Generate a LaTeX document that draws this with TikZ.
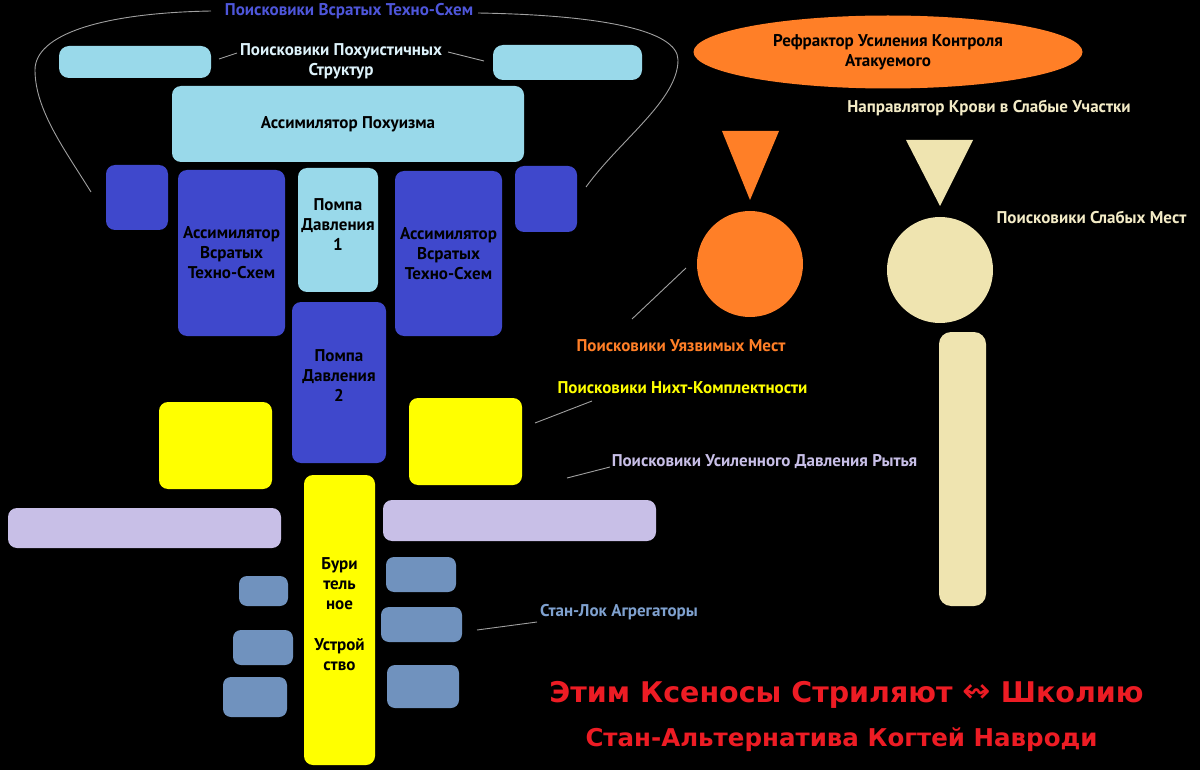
\documentclass[tikz,border=0pt]{standalone}
\usepackage{fontspec}
\setmainfont{PT Sans}
\newfontfamily\symf{DejaVu Sans}
\usetikzlibrary{shapes.geometric}
\definecolor{indig}{HTML}{3F48CC}
\definecolor{indigtxt}{HTML}{4E56DA}
\definecolor{ltblue}{HTML}{99D9EA}
\definecolor{ltbluetxt}{HTML}{DDF2FA}
\definecolor{yel}{HTML}{FFFF00}
\definecolor{lav}{HTML}{C8BFE7}
\definecolor{steel}{HTML}{7092BE}
\definecolor{steeltxt}{HTML}{7FA1CF}
\definecolor{orng}{HTML}{FF7F27}
\definecolor{cream}{HTML}{EFE4B0}
\definecolor{creamtxt}{HTML}{F3EBC6}
\definecolor{redc}{HTML}{ED1C24}
\definecolor{connc}{HTML}{A0A0A0}
\tikzset{
  box/.style={rectangle, rounded corners=9pt, inner sep=0pt, draw=none, align=center,
    text=black, font=\fontsize{17}{20}\selectfont\bfseries},
  lbl/.style={inner sep=0pt, align=center, font=\fontsize{17}{20}\selectfont\bfseries},
  conn/.style={draw=connc, line width=0.9pt},
  redtxt/.style={inner sep=0pt, text=redc},
}
\begin{document}
\begin{tikzpicture}[x=1pt,y=-1pt]
\fill[black] (0,0) rectangle (1200,770);
\useasboundingbox (0,0) rectangle (1200,770);

% top bracket label
\node[lbl, text=indigtxt] (topLbl) at (349,11) {Поисковики Всратых Техно-Схем};
\coordinate (arcLs) at (211,11);
\coordinate (arcRs) at (478,13);
\coordinate (arcLe) at (91,192);
\coordinate (arcRe) at (586,187);
\draw[conn] (arcLs) .. controls (100,13) and (35,35) .. (35,70)
  .. controls (35,110) and (65,150) .. (arcLe);
\draw[conn] (arcRs) .. controls (600,15) and (678,30) .. (678,60)
  .. controls (678,100) and (620,140) .. (arcRe);

% light blue
\node[box, fill=ltblue, rounded corners=10pt, minimum width=152, minimum height=32] (lbL) at (135,62) {};
\node[box, fill=ltblue, rounded corners=10pt, minimum width=149, minimum height=35] (lbR) at (567.5,62.5) {};
\node[lbl, text=ltbluetxt] (pokhLbl) at (341,61) {Поисковики Похуистичных\\Структур};
\coordinate (pkL1) at (219,59); \coordinate (pkL2) at (237,53);
\coordinate (pkR1) at (448,52); \coordinate (pkR2) at (484,61);
\draw[conn] (pkL1) -- (pkL2);
\draw[conn] (pkR1) -- (pkR2);

\node[box, fill=ltblue, minimum width=352, minimum height=76] (assimP) at (348,124) {Ассимилятор Похуизма};

% blue row
\node[box, fill=indig, minimum width=62, minimum height=65] (sbL) at (137,197.5) {};
\node[box, fill=indig, minimum width=107, minimum height=166] (assimL) at (231.5,253) {Ассимилятор\\Всратых\\Техно-Схем};
\node[box, fill=ltblue, minimum width=80, minimum height=124,
  label={[box, yshift=5pt]center:Помпа\\Давления\\1}] (pump1) at (338,230) {};
\node[box, fill=indig, minimum width=107, minimum height=165] (assimR) at (448.5,253.5) {Ассимилятор\\Всратых\\Техно-Схем};
\node[box, fill=indig, minimum width=62, minimum height=66] (sbR) at (546,199) {};
\node[box, fill=indig, minimum width=94, minimum height=161,
  label={[box, yshift=7pt]center:Помпа\\Давления\\2}] (pump2) at (339,382.5) {};

% yellow
\node[box, fill=yel, minimum width=113, minimum height=87] (yL) at (215.5,445.5) {};
\node[box, fill=yel, minimum width=113, minimum height=87] (yR) at (465.5,441.5) {};

% lavender
\node[box, fill=lav, minimum width=273, minimum height=40] (lavL) at (144.5,528) {};
\node[box, fill=lav, minimum width=273, minimum height=41] (lavR) at (519.5,520.5) {};

% drill
\node[box, fill=yel, minimum width=71, minimum height=290,
  label={[box, yshift=6pt]center:Бури\\тель\\ное\\[21pt]Устрой\\ство}] (drill) at (339.5,620) {};

% steel blue
\node[box, fill=steel, rounded corners=8pt, minimum width=49, minimum height=30] (sL1) at (263.5,591) {};
\node[box, fill=steel, rounded corners=8pt, minimum width=60, minimum height=35] (sL2) at (263,647.5) {};
\node[box, fill=steel, rounded corners=8pt, minimum width=64, minimum height=40] (sL3) at (255,697) {};
\node[box, fill=steel, rounded corners=8pt, minimum width=70, minimum height=35] (sR1) at (421,574.5) {};
\node[box, fill=steel, rounded corners=8pt, minimum width=81, minimum height=35] (sR2) at (421.5,624.5) {};
\node[box, fill=steel, rounded corners=8pt, minimum width=72, minimum height=43] (sR3) at (423,686.5) {};

% right side
\node[ellipse, fill=orng, inner sep=0pt, minimum width=389, minimum height=73, align=center,
  font=\fontsize{17}{20}\selectfont\bfseries] (refr) at (888,52) {Рефрактор Усиления Контроля\\Атакуемого};
\node[lbl, text=creamtxt] (naprLbl) at (989,108) {Направлятор Крови в Слабые Участки};
\fill[orng] (722,131) -- (779,131) -- (750,200) -- cycle;
\fill[cream] (906,140) -- (973,140) -- (940,206) -- cycle;
\node[circle, fill=orng, inner sep=0pt, minimum size=106] (ocirc) at (750,264) {};
\node[circle, fill=cream, inner sep=0pt, minimum size=106] (ccirc) at (940,270) {};
\node[lbl, text=creamtxt] (slabLbl) at (1091.5,217) {Поисковики Слабых Мест};
\node[box, fill=cream, rounded corners=12pt, minimum width=47, minimum height=274] (cbar) at (962.5,469) {};

% labels with connectors
\node[lbl, text=orng] (uyazLbl) at (681,346) {Поисковики Уязвимых Мест};
\coordinate (uyazA) at (632,319);
\coordinate (uyazB) at (686,268);
\draw[conn] (uyazA) -- (uyazB);

\node[lbl, text=yel] (nikhtLbl) at (682.5,388) {Поисковики Нихт-Комплектности};
\coordinate (nkA) at (535,423); \coordinate (nkB) at (592,401);
\draw[conn] (nkA) -- (nkB);

\node[lbl, text=lav] (usilLbl) at (764.5,462) {Поисковики Усиленного Давления Рытья};
\coordinate (usA) at (567,478); \coordinate (usB) at (610,467);
\draw[conn] (usA) -- (usB);

\node[lbl, text=steeltxt] (stanLbl) at (619,612) {Стан-Лок Агрегаторы};
\coordinate (stA) at (477,630); \coordinate (stB) at (537,622);
\draw[conn] (stA) -- (stB);

% red text
\node[redtxt, font=\symf\fontsize{28.5}{34}\selectfont\bfseries] (red1) at (846.5,695) {Этим Ксеносы Стриляют {\mdseries\fontsize{34}{34}\selectfont ↭} Школию};
\node[redtxt, font=\symf\fontsize{24.5}{30}\selectfont\bfseries] (red2) at (841.5,740) {Стан-Альтернатива Когтей Навроди};
\end{tikzpicture}
\end{document}
